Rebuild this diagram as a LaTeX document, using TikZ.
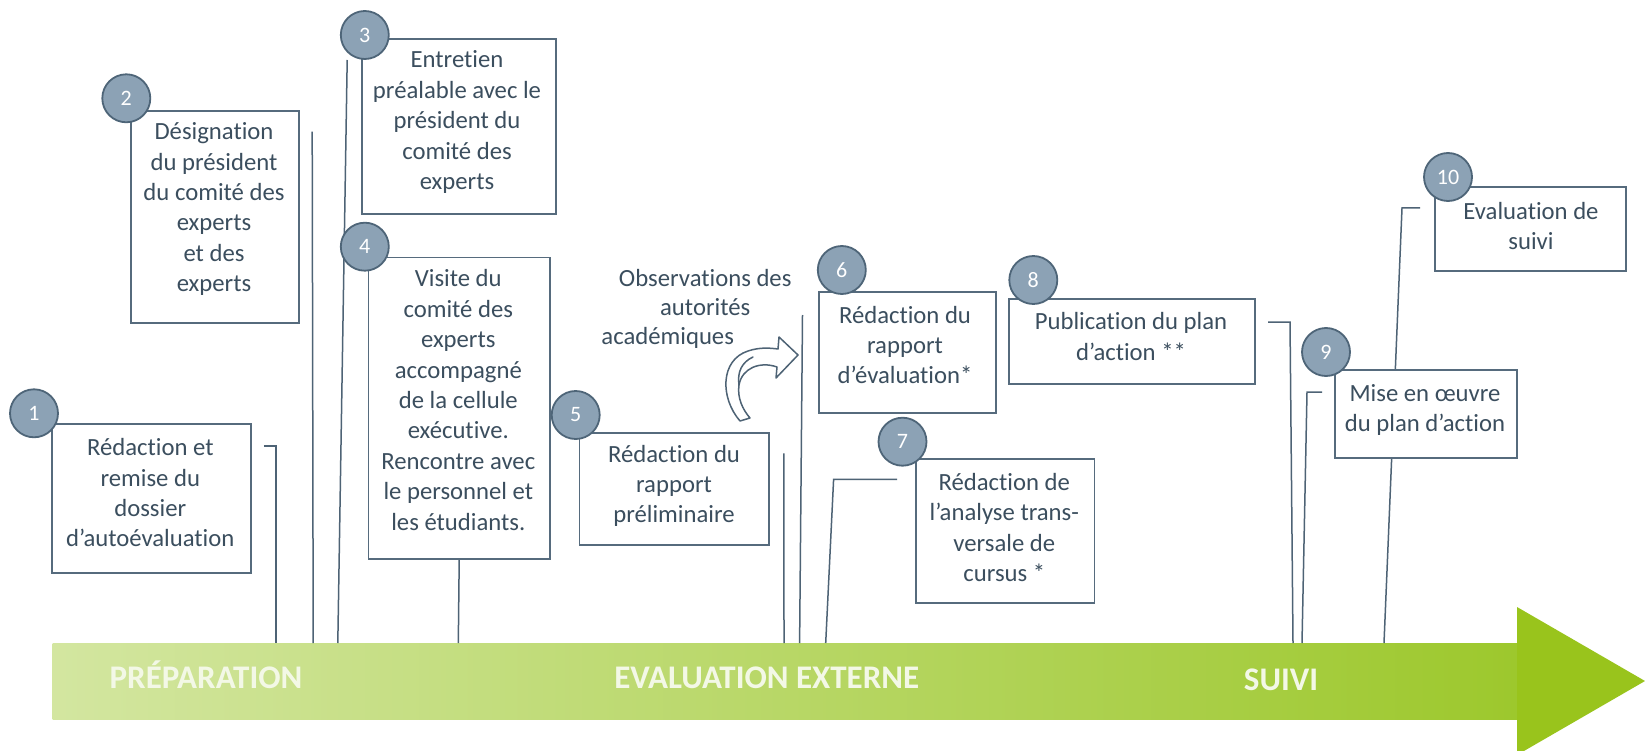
\documentclass[tikz,border=0pt]{standalone}
\usepackage{fontspec}
\setmainfont{Carlito}[Ligatures={TeX,NoCommon}]
\definecolor{txtc}{HTML}{3B4E5E}
\definecolor{boxc}{HTML}{566B7D}
\definecolor{circfill}{HTML}{8CA2B5}
\definecolor{circdraw}{HTML}{4E6578}
\definecolor{linec}{HTML}{4E6375}
\definecolor{gA}{HTML}{D3E6A0}
\definecolor{gB}{HTML}{BDD97A}
\definecolor{gC}{HTML}{9DC82D}
\definecolor{headc}{HTML}{99C41C}
\definecolor{bandtxt}{HTML}{F3F8E6}
\begin{document}
\begin{tikzpicture}[x=1pt,y=-1pt,
  stepbox/.style={draw=boxc, line width=1.8pt, fill=white, inner sep=0pt, anchor=north west},
  steptxt/.style={text=txtc, align=center, inner sep=0pt, font=\fontsize{24.7}{30.4}\selectfont},
  num/.style={circle, fill=circfill, draw=circdraw, line width=1.8pt, minimum size=48pt, inner sep=0pt, text=white, font=\fontsize{22}{24}\selectfont},
  conn/.style={draw=linec, line width=1.5pt},
  phase/.style={text=bandtxt, font=\bfseries\fontsize{33}{36}\selectfont, inner sep=0pt, text height=21.3pt, text depth=0pt},
]
\useasboundingbox (0,0) rectangle (1645,751);
\fill[white] (0,0) rectangle (1645,751);

% timeline arrow
\shade[left color=gA, middle color=gB, right color=gC] (52.6,643) rectangle (1517,719);
\fill[headc] (1517,607) -- (1645,681) -- (1517,755) -- cycle;
\node[phase] (p1) at (206,678) {PRÉPARATION};
\node[phase] (p2) at (766.8,678) {EVALUATION EXTERNE};
\node[phase] (p3) at (1281,680) {SUIVI};

% connector coordinates
\coordinate (l1a) at (263.8,446); \coordinate (l1b) at (276,446); \coordinate (l1c) at (276,643);
\coordinate (l2a) at (312.2,131.7); \coordinate (l2b) at (313.2,643);
\coordinate (l3a) at (347.2,60); \coordinate (l3b) at (337.8,643);
\coordinate (l4b) at (458.3,643);
\coordinate (l5a) at (783.9,453.3); \coordinate (l5b) at (784,643);
\coordinate (l6a) at (802.5,315); \coordinate (l6b) at (799.6,643);
\coordinate (l7a) at (897,479.3); \coordinate (l7b) at (833.6,479.3); \coordinate (l7c) at (825.7,643);
\coordinate (l8a) at (1268,322); \coordinate (l8b) at (1290,322); \coordinate (l8c) at (1293,643);
\coordinate (l9a) at (1322,392); \coordinate (l9b) at (1307,392); \coordinate (l9c) at (1302,643);
\coordinate (l10a) at (1420,208); \coordinate (l10b) at (1402,208); \coordinate (l10c) at (1384,643);

\draw[conn] (l1a) -- (l1b) -- (l1c);
\draw[conn] (l2a) -- (l2b);
\draw[conn] (l3a) -- (l3b);
\draw[conn] (l5a) -- (l5b);
\draw[conn] (l6a) -- (l6b);
\draw[conn] (l7a) -- (l7b) -- (l7c);
\draw[conn] (l8a) -- (l8b) -- (l8c);
\draw[conn] (l9a) -- (l9b) -- (l9c);
\draw[conn] (l10a) -- (l10b) -- (l10c);

% boxes
\node[stepbox, minimum width=198.8pt, minimum height=148.4pt] (b1) at (50.9,423.3) {};
\node[stepbox, minimum width=168.3pt, minimum height=211.7pt] (b2) at (129.8,110) {};
\node[stepbox, minimum width=193.7pt, minimum height=175pt] (b3) at (361.3,38.3) {};
\node[stepbox, minimum width=181.4pt, minimum height=301.6pt] (b4) at (367.6,256.7) {};
\node[stepbox, minimum width=189.3pt, minimum height=112.3pt] (b5) at (578.6,431.7) {};
\node[stepbox, minimum width=177.5pt, minimum height=120.7pt] (b6) at (817.9,291) {};
\node[stepbox, minimum width=178.6pt, minimum height=143.4pt] (b7) at (915,458.3) {};
\node[stepbox, minimum width=245.7pt, minimum height=85pt] (b8) at (1008.3,298.3) {};
\node[stepbox, minimum width=182pt, minimum height=88pt] (b9) at (1334,369) {};
\node[stepbox, minimum width=191pt, minimum height=84pt] (b10) at (1434,186) {};

\draw[conn] (b4.south) -- (l4b);

% texts
\node[steptxt] (t1) at (150.3,492.8) {Rédaction et\\remise du\\dossier\\d’autoévaluation};
\node[steptxt] (t2) at (214,209.2) {Désignation\\du président\\du comité des\\experts\\et des\\experts};
\node[steptxt] (t3) at (457,122.2) {Entretien\\préalable avec le\\président du\\comité des\\experts};
\node[steptxt] (t4) at (458.3,400) {Visite du\\comité des\\experts\\accompagné\\de la cellule\\exécutive.\\Rencontre avec\\le personnel et\\les étudiants.};
\node[steptxt] (t5) at (674,486) {Rédaction du\\rapport\\préliminaire};
\node[steptxt] (t6) at (905,345) {Rédaction du\\rapport\\d’évaluation*};
\node[steptxt] (t7) at (1004.3,527.5) {Rédaction de\\l’analyse trans-\\versale de\\cursus *};
\node[steptxt] (t8) at (1131,336.7) {Publication du plan\\d’action **};
\node[steptxt] (t9) at (1425,410) {Mise en œuvre\\du plan d’action};
\node[steptxt] (t10) at (1531,225.9) {Evaluation de\\suivi};
\node[steptxt, font=\fontsize{24.7}{29.2}\selectfont] (obs) at (705.2,309.2) {Observations des\\autorités\\académiques\hspace*{75pt}};

% curved arrow
\draw[linec, line width=1.5pt, fill=white, line join=round]
  (740,421) .. controls (720,398) and (720,360) .. (748,351)
  .. controls (760,347) and (770,348) .. (778,349)
  -- (779,337) -- (798,355) -- (776,378) -- (777,367)
  .. controls (760,361) and (742,368) .. (739,385)
  .. controls (737,398) and (743,410) .. (750,418) -- cycle;
\draw[linec, line width=1.5pt, line cap=round]
  (739,385) .. controls (737,372) and (742,362) .. (753,357);

% number circles
\node[num] (c1) at (34,413.3) {1};
\node[num] (c2) at (126.3,98.3) {2};
\node[num] (c3) at (364.8,35) {3};
\node[num] (c4) at (364.8,246.7) {4};
\node[num] (c5) at (575.7,415) {5};
\node[num] (c6) at (841.8,270) {6};
\node[num] (c7) at (902.5,441.7) {7};
\node[num] (c8) at (1033.3,280) {8};
\node[num] (c9) at (1326,352) {9};
\node[num] (c10) at (1448,177) {10};
\end{tikzpicture}
\end{document}
